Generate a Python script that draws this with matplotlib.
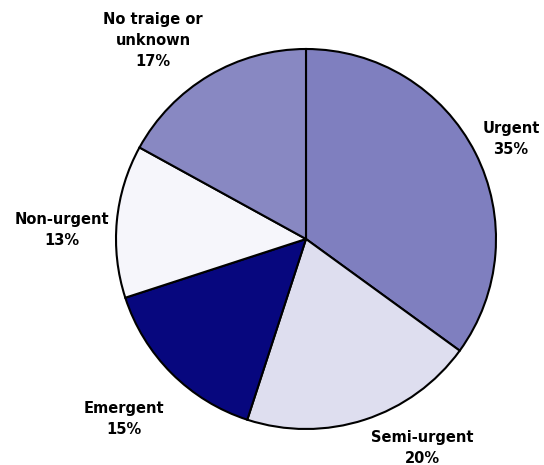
import numpy as np
import matplotlib
matplotlib.use('Agg')
import matplotlib.pyplot as plt

labels = ['Urgent', 'Semi-urgent', 'Emergent', 'Non-urgent', 'No traige or\nunknown']
shares = [35, 20, 15, 13, 17]
colors = ['#7f7fbf', '#dedeef', '#07077e', '#f6f6fb', '#8888c2']

# label centres in pixels (x, y from top)
label_pos = [(511, 139), (422, 448), (124, 419), (62, 230), (153, 41)]

W, H = 544, 465
fig = plt.figure(figsize=(W / 100, H / 100), dpi=100)
ax = fig.add_axes([0, 0, 1, 1])

ax.pie(shares, colors=colors, startangle=90, counterclock=False,
       center=(306, H - 239), radius=190, frame=True,
       wedgeprops=dict(edgecolor='black', linewidth=1.5))
ax.set_xlim(0, W)
ax.set_ylim(0, H)
ax.set_aspect('equal')
ax.axis('off')

for lab, val, (x, y) in zip(labels, shares, label_pos):
    ax.text(x, H - y, f'{lab}\n{val}%', ha='center', va='center',
            fontsize=10.5, fontweight='bold', linespacing=1.5, color='black')

plt.savefig('out.png', dpi=100)
